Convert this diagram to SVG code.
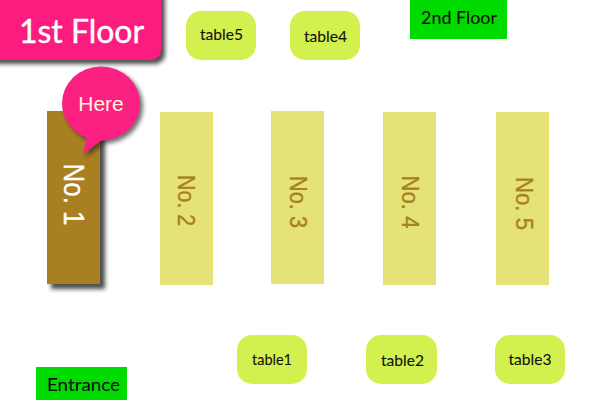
<svg xmlns="http://www.w3.org/2000/svg" width="600" height="400" viewBox="0 0 600 400">
<style>
.tb{fill:#d2f04e}
.gr{fill:#00dc00}
.lane{fill:#e5e277}
.l{font-family:"Lato","Liberation Sans",sans-serif;fill:#111;stroke:#111;stroke-width:.1px;font-size:16px;text-anchor:middle}
.n{font-family:"Liberation Sans",Arial,sans-serif;font-size:23.500px;text-anchor:middle;fill:#a88022;stroke:#a88022;stroke-width:.35px}
</style>
<defs>
<filter id="sh" x="-20%" y="-20%" width="140%" height="140%"><feGaussianBlur stdDeviation="2"/></filter>
</defs>
<rect width="600" height="400" fill="#fff"/>
<g id="floor1">
<rect x="-20" y="-10" width="185" height="74" rx="10" fill="#222" opacity=".8" filter="url(#sh)"/>
<rect x="-20" y="-10" width="181" height="70" rx="10" fill="#fc1c80"/>
<text x="81.500" y="43" font-family="Lato,'Liberation Sans',sans-serif" font-size="33" fill="#fff" stroke="#fff" stroke-width=".4" text-anchor="middle" textLength="125" lengthAdjust="spacingAndGlyphs">1st Floor</text>
</g>
<g id="no1">
<rect x="51" y="115" width="54" height="174" fill="#222" opacity=".8" filter="url(#sh)"/>
<rect x="47" y="111" width="53" height="173" fill="#a88022"/>
<text class="n" transform="translate(64,194.500) rotate(90)" style="fill:#fff;stroke:#fff;font-size:30px" textLength="62" lengthAdjust="spacingAndGlyphs">No. 1</text>
</g>
<g id="no2"><rect class="lane" x="160" y="112" width="53" height="173"/><text class="n" transform="translate(178,200.500) rotate(90)" textLength="51" lengthAdjust="spacingAndGlyphs">No. 2</text></g>
<g id="no3"><rect class="lane" x="271" y="111" width="53" height="173"/><text class="n" transform="translate(290,202) rotate(90)" textLength="52" lengthAdjust="spacingAndGlyphs">No. 3</text></g>
<g id="no4"><rect class="lane" x="383" y="112" width="53" height="173"/><text class="n" transform="translate(402,202) rotate(90)" textLength="53" lengthAdjust="spacingAndGlyphs">No. 4</text></g>
<g id="no5"><rect class="lane" x="496" y="112" width="53" height="173"/><text class="n" transform="translate(516,203.500) rotate(90)" textLength="53" lengthAdjust="spacingAndGlyphs">No. 5</text></g>
<g id="here">
<g transform="translate(3,3)" fill="#222" opacity=".65" filter="url(#sh)"><ellipse cx="101" cy="103.500" rx="39" ry="37"/><path d="M87 137L83 154L102 140z"/></g>
<ellipse cx="101" cy="103.500" rx="39" ry="37" fill="#fc2083"/>
<path d="M87 136L83 154.500L102 140z" fill="#fc2083"/>
<text x="101" y="111" font-family="Liberation Sans,Arial,sans-serif" font-size="21" fill="#fff6d5" text-anchor="middle">Here</text>
</g>
<g id="table5"><rect class="tb" x="186" y="11" width="70" height="49" rx="15"/><text class="l" x="221.500" y="39.500" textLength="43" lengthAdjust="spacingAndGlyphs">table5</text></g>
<g id="table4"><rect class="tb" x="290" y="11" width="70" height="49" rx="15"/><text class="l" x="325.500" y="41.500" textLength="43" lengthAdjust="spacingAndGlyphs">table4</text></g>
<g id="floor2"><rect class="gr" x="410" y="0" width="97" height="39"/><text class="l" x="459" y="24" style="font-size:18px" textLength="76" lengthAdjust="spacingAndGlyphs">2nd Floor</text></g>
<g id="table1"><rect class="tb" x="237" y="335" width="70" height="49" rx="15"/><text class="l" x="272" y="365" textLength="40" lengthAdjust="spacingAndGlyphs">table1</text></g>
<g id="table2"><rect class="tb" x="366" y="335" width="71" height="49" rx="15"/><text class="l" x="402.500" y="366" textLength="43" lengthAdjust="spacingAndGlyphs">table2</text></g>
<g id="table3"><rect class="tb" x="495" y="335" width="70" height="49" rx="15"/><text class="l" x="530" y="365" textLength="43" lengthAdjust="spacingAndGlyphs">table3</text></g>
<g id="entrance"><rect class="gr" x="36" y="367" width="91" height="33"/><text class="l" x="83.500" y="391" style="font-size:18px" textLength="73" lengthAdjust="spacingAndGlyphs">Entrance</text></g>
<g id="connectors"></g>
</svg>
